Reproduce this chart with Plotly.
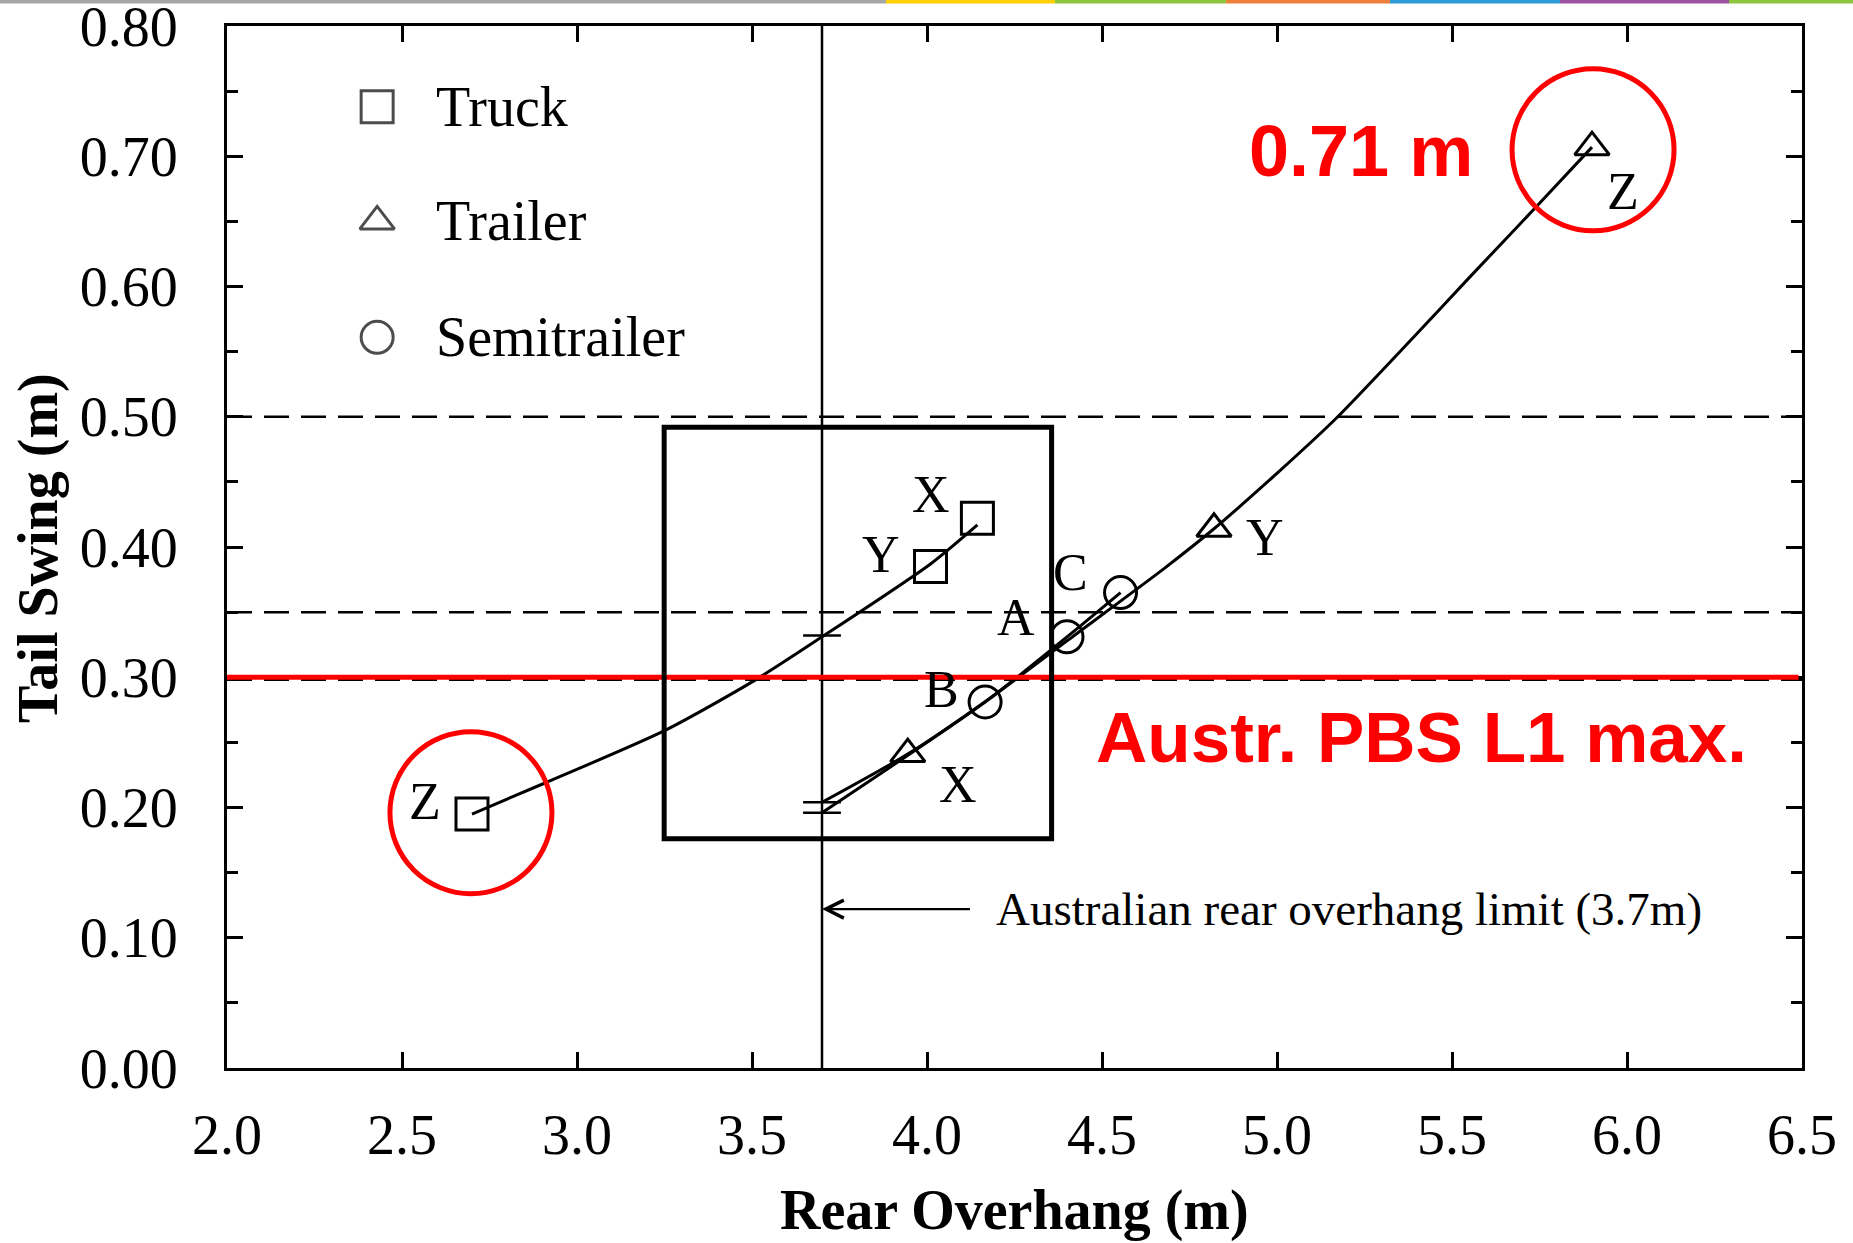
import plotly.graph_objects as go

# ---------------- data ----------------
# Marker points
truck_x = [2.70, 4.01, 4.144]
truck_y = [0.195, 0.385, 0.422]
truck_lbl = ["Z", "Y", "X"]

trailer_x = [3.945, 4.82, 5.90]
trailer_y = [0.241, 0.414, 0.707]
trailer_lbl = ["X", "Y", "Z"]

semi_x = [4.166, 4.40, 4.553]
semi_y = [0.281, 0.331, 0.365]
semi_lbl = ["B", "A", "C"]

# Fitted curves
truck_curve_x = [2.70, 2.91, 3.25, 3.51, 3.70, 4.01, 4.144]
truck_curve_y = [0.195, 0.219, 0.259, 0.298, 0.331, 0.387, 0.417]

trailer_curve_x = [3.70, 3.945, 4.17, 4.40, 4.68, 4.82, 5.01, 5.17, 5.39, 5.55, 5.74, 5.90]
trailer_curve_y = [0.204, 0.241, 0.282, 0.328, 0.384, 0.414, 0.459, 0.499, 0.561, 0.607, 0.661, 0.707]

semi_curve_x = [3.70, 4.166, 4.40, 4.553]
semi_curve_y = [0.196, 0.281, 0.331, 0.365]

# Curve start marks at the rear overhang limit
limit_mark_x = [3.70, 3.70, 3.70]
limit_mark_y = [0.332, 0.204, 0.196]

# Reference lines / limits
overhang_limit = 3.7
pbs_limit = 0.30
dashed_levels = [0.50, 0.35, 0.298]
focus_box = dict(x0=3.249, x1=4.356, y0=0.176, y1=0.492)
highlight_pts = [(2.697, 0.196), (5.903, 0.705)]

x_ticks = [2.0, 2.5, 3.0, 3.5, 4.0, 4.5, 5.0, 5.5, 6.0, 6.5]
y_ticks = [0.0, 0.1, 0.2, 0.3, 0.4, 0.5, 0.6, 0.7, 0.8]

legend_names = ["Truck", "Trailer", "Semitrailer"]
legend_symbols = ["square-open", "triangle-up-open", "circle-open"]

# ---------------- layout constants ----------------
W, H = 1853, 1243
ML, MR, MT, MB = 227, 51, 26, 175
SERIF = "Liberation Serif, Times New Roman, serif"
SANS = "Liberation Sans, Arial, sans-serif"
RED = "#ff0000"

legend_mx = 2.429
legend_tx = 2.591
legend_ys = [0.738, 0.650, 0.561]

fig = go.Figure()

line_style = dict(color="black", width=3)
for cx, cy in [(truck_curve_x, truck_curve_y), (trailer_curve_x, trailer_curve_y),
               (semi_curve_x, semi_curve_y)]:
    fig.add_trace(go.Scatter(x=cx, y=cy, mode="lines", line=dict(shape="spline", smoothing=0.7, **line_style),
                             showlegend=False, hoverinfo="skip"))

fig.add_trace(go.Scatter(x=limit_mark_x, y=limit_mark_y, mode="markers",
                         marker=dict(symbol="line-ew", size=27, color="black",
                                     line=dict(color="black", width=2.5)),
                         showlegend=False, hoverinfo="skip"))

series = [
    ("Truck", truck_x, truck_y, "square-open", 32),
    ("Trailer", trailer_x, trailer_y, "triangle-up-open", 30),
    ("Semitrailer", semi_x, semi_y, "circle-open", 32),
]
for name, xs, ys, sym, sz in series:
    fig.add_trace(go.Scatter(x=xs, y=ys, mode="markers", name=name,
                             marker=dict(symbol=sym, size=sz, color="black",
                                         line=dict(color="black", width=3)),
                             showlegend=False))

# manual legend (large symbols)
fig.add_trace(go.Scatter(x=[legend_mx] * 3, y=legend_ys, mode="markers",
                         marker=dict(symbol=legend_symbols, size=[32, 30, 32], color="black",
                                     line=dict(color="black", width=3)),
                         showlegend=False, hoverinfo="skip"))

annotations = []
for name, yy in zip(legend_names, legend_ys):
    annotations.append(dict(x=legend_tx, y=yy, xref="x", yref="y", text=name, showarrow=False,
                            xanchor="left", yanchor="middle",
                            font=dict(family=SERIF, size=56, color="black")))

# point labels (pixel offsets from each point)
label_offsets = {
    ("Truck", "Z"): (-47, 13), ("Truck", "Y"): (-50, 12), ("Truck", "X"): (-46, 24),
    ("Trailer", "X"): (50, -30), ("Trailer", "Y"): (51, -9), ("Trailer", "Z"): (31, -44),
    ("Semitrailer", "B"): (-44, 13), ("Semitrailer", "A"): (-51, 19), ("Semitrailer", "C"): (-50, 20),
}
for name, xs, ys, lbls in [("Truck", truck_x, truck_y, truck_lbl),
                           ("Trailer", trailer_x, trailer_y, trailer_lbl),
                           ("Semitrailer", semi_x, semi_y, semi_lbl)]:
    for xx, yy, lb in zip(xs, ys, lbls):
        dx, dy = label_offsets[(name, lb)]
        annotations.append(dict(x=xx, y=yy, xref="x", yref="y", text=lb, showarrow=False,
                                xshift=dx, yshift=dy, xanchor="center", yanchor="middle",
                                font=dict(family=SERIF, size=52, color="black")))

# arrow pointing to the rear overhang limit
annotations.append(dict(x=overhang_limit, y=0.122, ax=4.127, ay=0.122, xref="x", yref="y",
                        axref="x", ayref="y", showarrow=True, arrowhead=5, arrowsize=1.6,
                        arrowwidth=2.2, arrowcolor="black", text=""))
annotations.append(dict(x=4.19, y=0.122, xref="x", yref="y", showarrow=False,
                        text="Australian rear overhang limit (3.7m)", xanchor="left", yanchor="middle",
                        font=dict(family=SERIF, size=47, color="black")))

# red callouts
annotations.append(dict(x=5.241, y=0.704, xref="x", yref="y", showarrow=False, text="<b>0.71 m</b>",
                        xanchor="center", yanchor="middle", font=dict(family=SANS, size=72, color=RED)))
annotations.append(dict(x=5.413, y=0.254, xref="x", yref="y", showarrow=False,
                        text="<b>Austr. PBS L1 max.</b>", xanchor="center", yanchor="middle",
                        font=dict(family=SANS, size=71, color=RED)))

# axis titles
annotations.append(dict(x=0.5, y=-0.137, xref="paper", yref="paper", showarrow=False,
                        text="<b>Rear Overhang (m)</b>",
                        xanchor="center", yanchor="middle", font=dict(family=SERIF, size=56, color="black")))
annotations.append(dict(x=-0.1201, y=0.499, xref="paper", yref="paper", showarrow=False,
                        text="<b>Tail Swing (m)</b>", textangle=-90, xanchor="center", yanchor="middle",
                        font=dict(family=SERIF, size=56, color="black")))

shapes = []
for lv in dashed_levels:
    shapes.append(dict(type="line", xref="paper", yref="y", x0=0, x1=1, y0=lv, y1=lv,
                       line=dict(color="black", width=2.5, dash="25px,12px"), layer="below"))
shapes.append(dict(type="line", xref="x", yref="paper", x0=overhang_limit, x1=overhang_limit, y0=0, y1=1,
                   line=dict(color="black", width=2.5), layer="below"))
shapes.append(dict(type="line", xref="x", yref="y", x0=2.0, x1=6.49, y0=pbs_limit, y1=pbs_limit,
                   line=dict(color=RED, width=5)))
shapes.append(dict(type="rect", xref="x", yref="y", line=dict(color="black", width=5), **focus_box))
for cx, cy in highlight_pts:
    shapes.append(dict(type="circle", xref="x", yref="y", xsizemode="pixel", ysizemode="pixel",
                       xanchor=cx, yanchor=cy, x0=-81, x1=81, y0=-81, y1=81,
                       line=dict(color=RED, width=5)))

# slide decoration strip at the very top
pw = W - ML - MR
ph = H - MT - MB
def px_x(p):
    return (p - ML) / pw
def px_y(p):
    return 1 + (MT - p) / ph
strip = [(0, 886, "#a6a6a6"), (886, 1055, "#ffd000"), (1055, 1226, "#8cc63f"),
         (1226, 1390, "#f07f3c"), (1390, 1560, "#2d9bd7"), (1560, 1729, "#9c51a0"),
         (1729, 1853, "#8cc63f")]
for a, b, c in strip:
    shapes.append(dict(type="rect", xref="paper", yref="paper", x0=px_x(a), x1=px_x(b),
                       y0=px_y(3.5), y1=px_y(0), line=dict(width=0), fillcolor=c, layer="above"))

axis_common = dict(showgrid=False, zeroline=False, ticks="inside", ticklen=16, tickwidth=2.5,
                   tickcolor="black", showline=True, linecolor="black", linewidth=3, mirror="ticks",
                   automargin=False, ticklabeloverflow="allow",
                   tickfont=dict(family=SERIF, size=56, color="black"))

fig.update_layout(
    width=W, height=H,
    margin=dict(l=ML, r=MR, t=MT, b=MB, autoexpand=False),
    paper_bgcolor="white", plot_bgcolor="white",
    xaxis=dict(range=[2.0, 6.5], tickvals=x_ticks, ticktext=[f"{v:.1f}" for v in x_ticks],
               ticklabelstandoff=16, **axis_common),
    yaxis=dict(range=[0.0, 0.8], tickvals=y_ticks, ticktext=[f"{v:.2f}" for v in y_ticks],
               ticklabelstandoff=35,
               minor=dict(dtick=0.05, ticks="inside", ticklen=11, tickwidth=2.5, tickcolor="black"),
               **axis_common),
    annotations=annotations,
    shapes=shapes,
    showlegend=False,
)

fig.write_html("out.html", config={"displayModeBar": False},
               post_script="document.body.style.margin='0';")
